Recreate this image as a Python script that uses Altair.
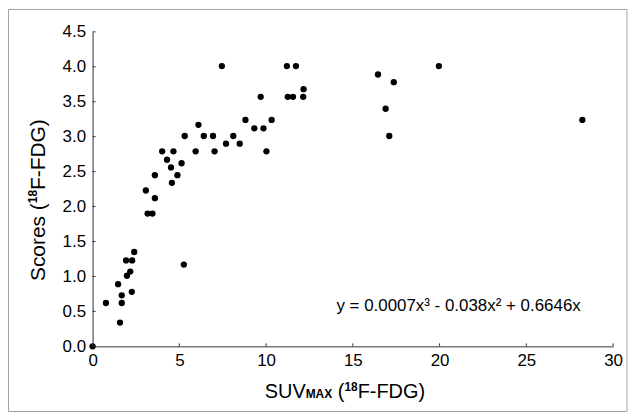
import altair as alt
import pandas as pd

suv = [0, 0.77, 1.47, 1.58, 1.68, 1.68, 1.93, 1.98, 2.17, 2.28, 2.26, 2.40,
       3.07, 3.17, 3.45, 3.59, 3.59, 4.01, 4.29, 4.52, 4.57, 4.66, 4.89,
       5.13, 5.26, 5.31, 5.94, 6.10, 6.41, 6.94, 7.03, 7.45, 7.69,
       8.11, 8.48, 8.81, 9.32, 9.69, 9.85, 10.02, 10.32,
       11.20, 11.25, 11.55, 11.72, 12.14, 12.16,
       16.45, 16.89, 17.10, 17.36, 19.96, 28.23]
scores = [0, 0.62, 0.89, 0.34, 0.73, 0.62, 1.23, 1.01, 1.07, 1.23, 0.78, 1.35,
          2.23, 1.90, 1.90, 2.12, 2.45, 2.79, 2.67, 2.56, 2.34, 2.79, 2.45,
          2.62, 1.17, 3.01, 2.79, 3.17, 3.01, 3.01, 2.79, 4.01, 2.90,
          3.01, 2.90, 3.24, 3.12, 3.57, 3.12, 2.79, 3.24,
          4.01, 3.57, 3.57, 4.01, 3.57, 3.68,
          3.89, 3.40, 3.01, 3.78, 4.01, 3.24]
x_ticks = [0, 5, 10, 15, 20, 25, 30]
y_ticks = [0, 0.5, 1.0, 1.5, 2.0, 2.5, 3.0, 3.5, 4.0, 4.5]
equation = "y = 0.0007x³ - 0.038x² + 0.6646x"

FONT = "Liberation Sans"
AX = "#333333"
W, H = 523, 316

# Arial / Liberation Sans advance widths (per em) for text layout
REG = {"S": .667, "c": .5, "o": .556, "r": .333, "e": .556, "s": .5, " ": .278,
       "(": .333, ")": .333, "F": .611, "-": .333, "D": .722, "G": .778,
       "U": .722, "V": .667}
BOLD = {"M": .833, "A": .722, "X": .667, "1": .556, "8": .556}


def tw(s, size, table=REG):
    return sum(table[ch] for ch in s) * size


df = pd.DataFrame({"suv": suv, "scores": scores})
xs = alt.Scale(domain=[0, 30], nice=False)
ys = alt.Scale(domain=[0, 4.5], nice=False)

x_axis = alt.Axis(values=x_ticks, ticks=False, grid=False, title=None, labelFont=FONT,
                  labelFontSize=17, labelColor="black", labelPadding=6, domainColor=AX,
                  labelFlush=False, labelOverlap=False)
y_axis = alt.Axis(values=y_ticks, ticks=False, grid=False, title=None, labelFont=FONT,
                  labelFontSize=17, labelColor="black", labelPadding=7, domainColor=AX,
                  format=".1f", labelFlush=False, labelOverlap=False)

points = alt.Chart(df).mark_circle(color="black", opacity=1, size=40).encode(
    x=alt.X("suv:Q", scale=xs, axis=x_axis),
    y=alt.Y("scores:Q", scale=ys, axis=y_axis),
)

ytick_df = pd.DataFrame({"v": y_ticks})
xtick_df = pd.DataFrame({"v": x_ticks})
ytk = alt.Chart(ytick_df).mark_rule(color=AX).encode(
    y=alt.Y("v:Q", scale=ys, axis=y_axis), x=alt.value(0), x2=alt.value(3))
xtk = alt.Chart(xtick_df).mark_rule(color=AX).encode(
    x=alt.X("v:Q", scale=xs, axis=x_axis), y=alt.value(H), y2=alt.value(H - 3))

txt = pd.DataFrame({"a": [0]})


def label(text, x, y, size, bold=False, angle=0):
    kw = dict(text=text, font=FONT, fontSize=size, align="left",
              baseline="alphabetic", color="black")
    if bold:
        kw["fontWeight"] = "bold"
    if angle:
        kw["angle"] = angle
    return alt.Chart(txt).mark_text(**kw).encode(x=alt.value(x), y=alt.value(y))


eq = label(equation, 245, 280.5, 17)

# x title: SUV + small MAX + (18F-FDG)
XS, SS = 20, 12
xb = 368
x0 = 173
xparts = []
xparts.append(label("SUV", x0, xb, XS))
x1 = x0 + tw("SUV", XS)
xparts.append(label("MAX", x1, xb, SS, bold=True))
x2 = x1 + tw("MAX", SS, BOLD) + tw(" ", XS)
xparts.append(label("(", x2, xb, XS))
x3 = x2 + tw("(", XS)
xparts.append(label("18", x3, xb - 7, SS, bold=True))
x4 = x3 + tw("18", SS, BOLD)
xparts.append(label("F-FDG)", x4, xb, XS))

# y title (rotated): Scores (18F-FDG)
YS, YSS = 21, 12
yx = -47.5
ylen = tw("Scores (", YS) + tw("18", YSS, BOLD) + tw("F-FDG)", YS)
yb = 169 + ylen / 2
yparts = []
yparts.append(label("Scores (", yx, yb, YS, angle=270))
yb2 = yb - tw("Scores (", YS)
yparts.append(label("18", yx - 8, yb2, YSS, bold=True, angle=270))
yb3 = yb2 - tw("18", YSS, BOLD)
yparts.append(label("F-FDG)", yx, yb3, YS, angle=270))

frame = alt.Chart(txt).mark_rect(filled=False, stroke="#a0a0a0", strokeWidth=1).encode(
    x=alt.value(-84.5), x2=alt.value(537), y=alt.value(-22.5), y2=alt.value(381.5))

chart = alt.layer(frame, points, ytk, xtk, eq, *xparts, *yparts).properties(
    width=W, height=H,
    autosize=alt.AutoSizeParams(type="none"),
    padding={"left": 85, "top": 23, "right": 15, "bottom": 67},
).configure_view(stroke="transparent").configure_axis(domainWidth=1)

chart.save("out.html", embed_options={"renderer": "svg", "actions": False})
